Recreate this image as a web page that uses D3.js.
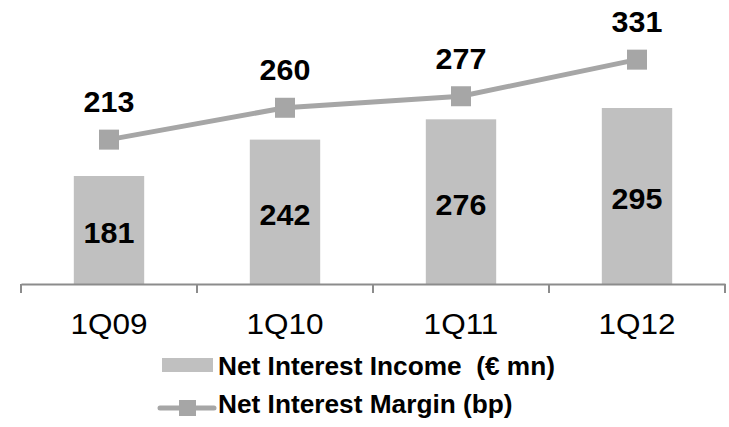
<!DOCTYPE html>
<html>
<head>
<meta charset="utf-8">
<script src="https://cdn.jsdelivr.net/npm/d3@7"></script>
<style>
  html, body { margin: 0; padding: 0; background: #ffffff; }
  svg { display: block; font-family: "Liberation Sans", Arial, sans-serif; }
</style>
</head>
<body>
<svg id="chart" width="729" height="427"></svg>
<script>
// ---- data ----
const categories = ["1Q09", "1Q10", "1Q11", "1Q12"];
const incomeValues = [181, 242, 276, 295];   // Net Interest Income (€ mn) - bars
const marginValues = [213, 260, 277, 331];   // Net Interest Margin (bp) - line
const legendLabels = ["Net Interest Income  (€ mn)", "Net Interest Margin (bp)"];

const barColor = "#c0c0c0";
const lineColor = "#a6a6a6";
const axisColor = "#8c8c8c";
const stretch = 1.05;

const svg = d3.select("#chart");

const x = d3.scaleBand().domain(categories).range([21, 725]).paddingInner(0).paddingOuter(0);
const xBar = d3.scaleBand().domain(categories).range([21, 725]).paddingInner(0.6).paddingOuter(0.3);
const yBar = d3.scaleLinear().domain([0, 476]).range([284, 0]);
const yLine = d3.scaleLinear().domain([0, 419]).range([284, 0]);

function widen(sel) {
  sel.each(function () {
    const w = this.getComputedTextLength();
    d3.select(this).attr("textLength", w * stretch).attr("lengthAdjust", "spacingAndGlyphs");
  });
}

// bars
svg.append("g").selectAll("rect").data(incomeValues).join("rect")
  .attr("x", (d, i) => xBar(categories[i]))
  .attr("y", d => yBar(d))
  .attr("width", xBar.bandwidth())
  .attr("height", d => yBar(0) - yBar(d))
  .attr("fill", barColor);

// bar labels
svg.append("g").selectAll("text").data(incomeValues).join("text")
  .attr("x", (d, i) => x(categories[i]) + x.bandwidth() / 2)
  .attr("y", d => (yBar(d) + yBar(0)) / 2 + 13)
  .attr("text-anchor", "middle")
  .attr("font-size", 29).attr("font-weight", "bold").attr("fill", "#000")
  .text(d => d)
  .call(widen);

// x axis
const axis = d3.axisBottom(x).tickSize(9).tickSizeOuter(0).tickFormat("");
const gx = svg.append("g").attr("transform", "translate(0,284)").call(axis);
gx.select(".domain").attr("stroke", axisColor).attr("stroke-width", 2);
gx.selectAll(".tick").remove();
const boundaries = categories.map(c => x(c)).concat([x(categories[categories.length - 1]) + x.bandwidth()]);
gx.selectAll("line.bnd").data(boundaries).join("line")
  .attr("class", "bnd")
  .attr("x1", d => d).attr("x2", d => d)
  .attr("y1", 0).attr("y2", 9)
  .attr("stroke", axisColor).attr("stroke-width", 2);

svg.append("g").selectAll("text").data(categories).join("text")
  .attr("x", d => x(d) + x.bandwidth() / 2)
  .attr("y", 334)
  .attr("text-anchor", "middle")
  .attr("font-size", 30).attr("fill", "#000")
  .text(d => d)
  .call(widen);

// line
const line = d3.line()
  .x((d, i) => x(categories[i]) + x.bandwidth() / 2)
  .y(d => yLine(d));
svg.append("path").datum(marginValues)
  .attr("d", line)
  .attr("fill", "none")
  .attr("stroke", lineColor)
  .attr("stroke-width", 5);

svg.append("g").selectAll("rect").data(marginValues).join("rect")
  .attr("x", (d, i) => x(categories[i]) + x.bandwidth() / 2 - 10)
  .attr("y", d => yLine(d) - 10)
  .attr("width", 20).attr("height", 20)
  .attr("fill", lineColor);

svg.append("g").selectAll("text").data(marginValues).join("text")
  .attr("x", (d, i) => x(categories[i]) + x.bandwidth() / 2)
  .attr("y", d => yLine(d) - 27.5)
  .attr("text-anchor", "middle")
  .attr("font-size", 29).attr("font-weight", "bold").attr("fill", "#000")
  .text(d => d)
  .call(widen);

// legend
const lg = svg.append("g");
lg.append("rect").attr("x", 162).attr("y", 358).attr("width", 51).attr("height", 14).attr("fill", barColor);
lg.append("line").attr("x1", 160).attr("x2", 214).attr("y1", 408).attr("y2", 408)
  .attr("stroke", lineColor).attr("stroke-width", 5).attr("stroke-linecap", "round");
lg.append("rect").attr("x", 179).attr("y", 400).attr("width", 17).attr("height", 16).attr("fill", lineColor);

lg.selectAll("text").data(legendLabels).join("text")
  .attr("x", 218)
  .attr("y", (d, i) => i === 0 ? 375 : 413)
  .attr("font-size", 25).attr("font-weight", "bold").attr("fill", "#000")
  .style("white-space", "pre")
  .text(d => d)
  .call(widen);
</script>
</body>
</html>
